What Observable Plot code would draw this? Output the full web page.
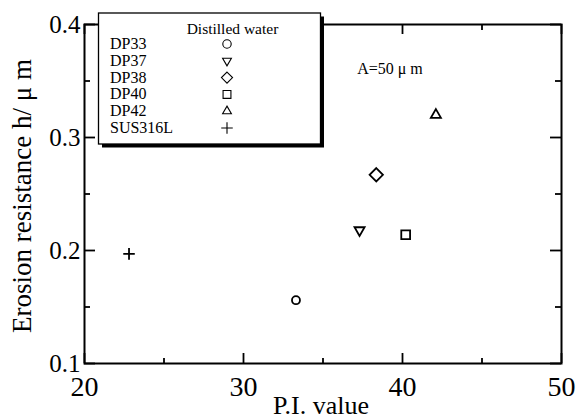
<!DOCTYPE html>
<html><head><meta charset="utf-8">
<script src="https://cdn.jsdelivr.net/npm/d3@7"></script>
<script src="https://cdn.jsdelivr.net/npm/@observablehq/plot@0.6"></script>
<style>
body{margin:0;background:#fff;}
#wrap{position:relative;width:576px;height:419px;font-family:"Liberation Serif","Times New Roman",serif;}
#wrap svg.overlay{position:absolute;left:0;top:0;pointer-events:none;}
</style></head><body><div id="wrap"></div>
<script>
// ---- data ----
const materials = ["DP33", "DP37", "DP38", "DP40", "DP42", "SUS316L"];
const piValues  = [33.3, 37.3, 38.35, 40.2, 42.1, 22.8];
const erosion   = [0.156, 0.218, 0.267, 0.214, 0.320, 0.197];
const symbolNames = ["circle", "triangle2", "diamond2", "square2", "triangle2", "plus"];
const flipped   = [false, true, false, false, false, false];
const xMajorTicks = [20, 30, 40, 50];
const xMinorTicks = [25, 35, 45];
const yMajorTicks = [0.1, 0.2, 0.3, 0.4];
const yMinorTicks = [0.15, 0.25, 0.35];
const legendTitle = "Distilled water";
const annotation = "A=50 \u03bc m";
const xLabel = "P.I. value";
const yLabel = "Erosion resistance h/ \u03bc m";

// ---- styles / layout ----
const FONT = "Liberation Serif, Times New Roman, serif";
const plotR = {circle: 4, triangle2: 4.8, diamond2: 6.0, square2: 5.6, plus: 3.8};
const legendR = {circle: 4.2, triangle2: 4.2, diamond2: 5.0, square2: 5.0, plus: 3.8};
const W = 576, H = 419;
const mL = 84, mR = 15, mT = 24, mB = 56;
const innerW = W - mL - mR, innerH = H - mT - mB;

const rows = materials.map((m, i) => ({
  material: m, pi: piValues[i], h: erosion[i],
  symbol: symbolNames[i], rot: flipped[i] ? 180 : 0, r: plotR[symbolNames[i]]
}));

const fmt1 = d3.format(".1f");
const tk = {stroke: "black", strokeWidth: 1.8};
// inward ticks drawn as rules inset to a short length at each edge
const xTicks = (vals, side, len) => Plot.ruleX(vals, {...tk, x: d => d,
  ...(side === "bottom" ? {insetTop: innerH - len} : {insetBottom: innerH - len})});
const yTicks = (vals, side, len) => Plot.ruleY(vals, {...tk, y: d => d,
  ...(side === "left" ? {insetRight: innerW - len} : {insetLeft: innerW - len})});

const plot = Plot.plot({
  width: W, height: H,
  marginLeft: mL, marginRight: mR, marginTop: mT, marginBottom: mB,
  x: {domain: [20, 50]},
  y: {domain: [0.1, 0.4]},
  r: {type: "identity"},
  style: {fontFamily: FONT, background: "white", color: "black", overflow: "visible"},
  marks: [
    Plot.frame({stroke: "black", strokeWidth: 2}),
    // inward ticks
    xTicks(xMajorTicks, "bottom", 10), xTicks(xMinorTicks, "bottom", 5),
    xTicks(xMajorTicks, "top", 10), xTicks(xMinorTicks, "top", 6),
    yTicks(yMajorTicks, "left", 11), yTicks(yMinorTicks, "left", 6),
    yTicks(yMajorTicks, "right", 11), yTicks(yMinorTicks, "right", 6),
    // tick labels
    Plot.axisX(xMajorTicks, {anchor: "bottom", tickSize: 0, tickPadding: 13, fontSize: 28, label: null, tickFormat: d => String(d)}),
    Plot.axisY(yMajorTicks, {anchor: "left", tickSize: 0, tickPadding: 4, fontSize: 25, label: null, tickFormat: fmt1}),
    // axis titles
    Plot.text([xLabel], {text: d => d, frameAnchor: "bottom", textAnchor: "middle", dy: 42, dx: -2, lineAnchor: "middle", fontSize: 26}),
    Plot.text([yLabel], {text: d => d, frameAnchor: "left", textAnchor: "middle", dx: -62, dy: 2, rotate: -90, lineAnchor: "middle", fontSize: 27}),
    // annotation
    Plot.text([annotation], {text: d => d, x: () => 37.15, y: () => 0.361, textAnchor: "start", lineAnchor: "middle", fontSize: 16}),
    // data
    Plot.dot(rows, {x: "pi", y: "h", symbol: "symbol", rotate: "rot", r: "r", stroke: "black", strokeWidth: 1.8, fill: "none"})
  ]
});

const wrap = document.getElementById("wrap");
wrap.appendChild(plot);

// ---- legend overlay ----
const svg = d3.select(wrap).append("svg").attr("class", "overlay").attr("width", W).attr("height", H);
const bx = 98.5, by = 13, bw = 222, bh = 131;
svg.append("rect").attr("x", bx + 3.5).attr("y", by + 3.5).attr("width", bw).attr("height", bh).attr("fill", "black");
svg.append("rect").attr("x", bx).attr("y", by).attr("width", bw).attr("height", bh).attr("fill", "white").attr("stroke", "black").attr("stroke-width", 1.3);
svg.append("text").attr("x", 232.5).attr("y", 34).attr("text-anchor", "middle")
  .attr("font-family", FONT).attr("font-size", 15.5).text(legendTitle);
const symMap = {circle: d3.symbolCircle, triangle2: d3.symbolTriangle2, diamond2: d3.symbolDiamond2, square2: d3.symbolSquare2, plus: d3.symbolPlus};
materials.forEach((m, i) => {
  const base = 49 + i * 16.8;
  svg.append("text").attr("x", 110).attr("y", base).attr("font-family", FONT).attr("font-size", 16).text(m);
  const rr = legendR[symbolNames[i]];
  svg.append("path")
    .attr("d", d3.symbol(symMap[symbolNames[i]], Math.PI * rr * rr)())
    .attr("transform", `translate(227,${base - 5}) rotate(${flipped[i] ? 180 : 0})`)
    .attr("fill", "none").attr("stroke", "black").attr("stroke-width", 1.1);
});
</script>
</body></html>
